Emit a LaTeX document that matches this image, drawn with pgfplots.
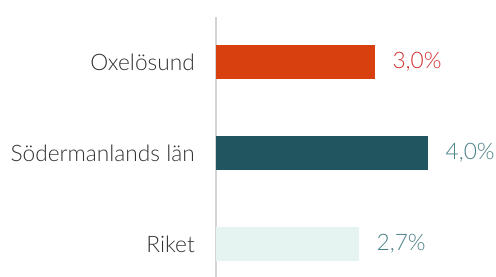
\documentclass[border=0pt]{standalone}
\usepackage{fontspec}
\setmainfont{Lato}[UprightFont={* Light}]
\usepackage{pgfplots}
\pgfplotsset{compat=1.18}
\definecolor{barA}{HTML}{D9400F}
\definecolor{barB}{HTML}{215661}
\definecolor{barC}{HTML}{E5F4F0}
\definecolor{labA}{HTML}{D03030}
\definecolor{labB}{HTML}{4A8088}
\definecolor{txt}{HTML}{333333}
\definecolor{axl}{HTML}{D4D4D4}
\begin{document}
\begin{tikzpicture}
\begin{axis}[
  at={(216bp,0bp)}, anchor=south west,
  scale only axis, width=264.5bp, height=260bp,
  xbar, bar width=34bp, bar shift=0pt,
  xmin=0, xmax=4.98,
  ymin=-0.495, ymax=2.363, y dir=reverse,
  axis x line=none,
  axis y line*=left,
  axis line style={axl, line width=1.2pt, -},
  ytick={0,1,2},
  yticklabels={Oxelösund, Södermanlands län, Riket},
  major tick length=0pt,
  y tick label style={font=\fontsize{22.8}{26}\selectfont, color=txt, anchor=east, inner sep=0pt, xshift=-21bp},
  point meta=x,
  nodes near coords={\pgfmathprintnumber[fixed,fixed zerofill,precision=1,use comma,assume math mode=true]{\pgfplotspointmeta}\%},
  every node near coord/.append style={font=\fontsize{22.8}{26}\selectfont, anchor=west, inner sep=0pt, xshift=17bp},
  clip=false,
]
\addplot[fill=barA, draw=none, nodes near coords style={color=labA}] coordinates {(3.0,0)};
\addplot[fill=barB, draw=none, nodes near coords style={color=labB}] coordinates {(4.0,1)};
\addplot[fill=barC, draw=none, nodes near coords style={color=labB}] coordinates {(2.7,2)};
\end{axis}
\pgfresetboundingbox
\path[use as bounding box] (0,0) rectangle (496bp,277bp);
\end{tikzpicture}
\end{document}
